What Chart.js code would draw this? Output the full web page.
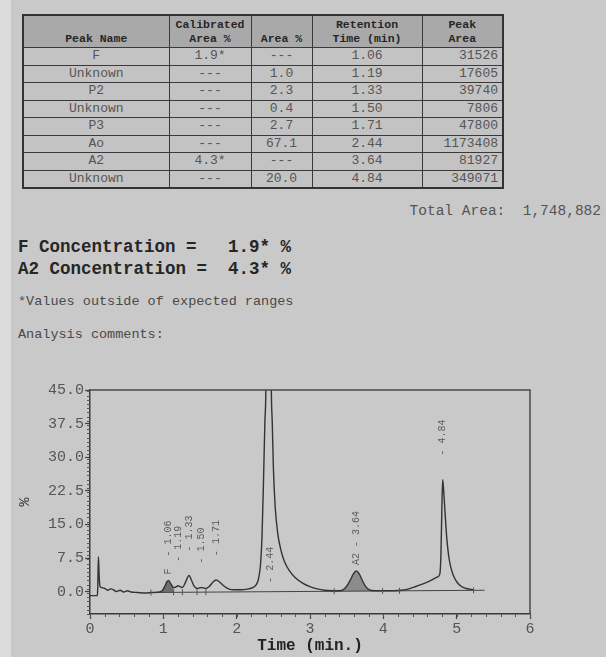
<!DOCTYPE html>
<html><head><meta charset="utf-8">
<script src="https://cdn.jsdelivr.net/npm/chart.js@4.4.1/dist/chart.umd.min.js"></script>
<style>
html,body{margin:0;padding:0;}
body{width:606px;height:657px;position:relative;overflow:hidden;background:#c9c9c9;font-family:"Liberation Mono",monospace;color:#4a4a4a;}
#strip{position:absolute;left:0;top:0;width:11px;height:657px;background:#dcdcdc;}
table{position:absolute;left:22px;top:14px;width:480px;border-collapse:collapse;table-layout:fixed;border:2px solid #333;}
th,td{border:1.5px solid #3a3a3a;padding:0 4px;white-space:nowrap;overflow:hidden;}
th{background:#a9a9a9;font-size:11.5px;font-weight:bold;color:#262626;vertical-align:bottom;height:30px;line-height:14px;padding-bottom:1px;text-align:center;}
td{background:#c3c3c3;font-size:13px;color:#555;height:16.5px;line-height:16px;text-align:center;}
td.r{text-align:right;}
.t{position:absolute;white-space:pre;}
#total{right:5px;top:203px;font-size:14.5px;color:#555;}
.conc{left:18px;font-size:17.5px;font-weight:bold;color:#262626;}
.small{left:18px;font-size:13.5px;color:#4a4a4a;}
#c{position:absolute;left:0;top:370px;}
</style></head>
<body>
<div id="strip"></div>
<table id="tbl">
<colgroup><col style="width:146px"><col style="width:82px"><col style="width:61px"><col style="width:110px"><col style="width:81px"></colgroup>
<thead><tr><th>Peak Name</th><th>Calibrated<br>Area %</th><th>Area %</th><th>Retention<br>Time (min)</th><th>Peak<br>Area</th></tr></thead>
<tbody id="tb"></tbody>
</table>
<div class="t" id="total"></div>
<div class="t conc" id="fc" style="top:237px"></div>
<div class="t conc" id="ac" style="top:259px"></div>
<div class="t small" style="top:294px">*Values outside of expected ranges</div>
<div class="t small" style="top:327px">Analysis comments:</div>
<canvas id="c" width="606" height="287"></canvas>
<script>
// ---- table data ----
const peakNames = ["F","Unknown","P2","Unknown","P3","Ao","A2","Unknown"];
const calibratedArea = ["1.9*","---","---","---","---","---","4.3*","---"];
const areaPct = ["---","1.0","2.3","0.4","2.7","67.1","---","20.0"];
const retentionTimes = ["1.06","1.19","1.33","1.50","1.71","2.44","3.64","4.84"];
const peakAreas = ["31526","17605","39740","7806","47800","1173408","81927","349071"];
const totalArea = "1,748,882";
const concLines = ["F Concentration =   1.9* %","A2 Concentration =  4.3* %"];

// ---- chromatogram data (time in min, signal in %) ----
const traceTime = [0.00,0.10,0.105,0.115,0.125,0.135,0.16,0.20,0.24,0.28,0.32,0.36,0.41,0.46,0.51,0.56,0.65,0.75,0.85,0.95,
  0.99,1.02,1.05,1.07,1.10,1.14,1.17,1.20,1.23,1.26,1.30,1.35,1.38,1.42,1.46,1.49,1.52,1.55,1.58,1.63,1.68,1.72,1.77,1.83,1.89,1.96,
  2.06,2.16,2.22,2.27,2.30,2.325,2.345,2.365,2.385,2.40,2.44,2.47,2.485,2.50,2.525,2.56,2.60,2.65,2.72,2.80,2.90,3.00,3.10,3.20,3.30,
  3.40,3.45,3.50,3.55,3.59,3.63,3.67,3.71,3.76,3.81,3.88,4.00,4.15,4.25,4.35,4.45,4.55,4.65,4.73,4.77,4.785,4.80,4.81,4.825,4.84,
  4.865,4.90,4.95,5.00,5.06,5.13,5.23];
const traceSignal = [-0.9,-0.9,0.5,7.8,3.5,1.2,0.9,0.7,0.3,0.6,0.4,0.0,0.3,-0.1,0.2,-0.1,-0.2,-0.3,-0.2,-0.1,
  0.3,1.2,2.2,2.5,1.8,0.9,1.0,1.3,1.1,0.9,2.0,3.6,2.7,1.2,0.7,0.8,0.9,0.8,0.7,1.2,2.2,2.6,2.1,1.2,0.6,0.4,
  0.4,0.6,0.9,1.6,3.0,6,12,24,38,48,200,50,38,28,19,13,9.5,6.8,4.6,3.1,1.9,1.1,0.6,0.3,0.2,
  0.2,0.4,1.2,2.6,3.9,4.6,4.0,2.6,1.1,0.4,0.2,0.2,0.2,0.3,0.6,1.2,1.8,2.5,3.2,3.9,8,20,25,22,18,
  12,7,3.8,2.2,1.2,0.7,0.4];
const baselineTime = [0.83,5.38];
const baselineSignal = [-0.2,0.3];
const shadedPeaks = [[0.95,1.14],[3.40,3.88]];      // F and A2 integrated regions (min)
const shadeLevel = [-0.18,0.1];
const peakApexTime = [1.07,1.20,1.35,1.52,1.72,2.46,3.63,4.81];
const peakLabelLevel = [2.5,1.3,3.6,0.9,2.6,-3.4,4.6,25];
const chartPeakNames = ["F","","","","","","A2",""];
const markTime = [0.83,1.14,1.26,1.46,1.58,3.33,3.99,4.22,5.23];
const xTicks = [0,1,2,3,4,5,6];
const yTicks = [0,7.5,15,22.5,30,37.5,45];
const xMinorStep = 0.2, yMinorStep = 0.9375;

// ---- build table ----
const tb = document.getElementById('tb');
peakNames.forEach((n,i)=>{
  const tr=document.createElement('tr');
  [[n,''],[calibratedArea[i],''],[areaPct[i],''],[retentionTimes[i],''],[peakAreas[i],'r']].forEach(([v,c])=>{
    const td=document.createElement('td'); td.textContent=v; if(c) td.className=c; tr.appendChild(td);
  });
  tb.appendChild(tr);
});
document.getElementById('total').textContent = "Total Area:  " + totalArea;
document.getElementById('fc').textContent = concLines[0];
document.getElementById('ac').textContent = concLines[1];

// ---- chart ----
const pts = (ts,vs)=>ts.map((t,i)=>({x:t,y:vs[i]}));
const trace = pts(traceTime,traceSignal);
const shadeSets = shadedPeaks.map(([a,b],k)=>({
  data: trace.filter(p=>p.x>=a&&p.x<=b),
  borderWidth:0, pointRadius:0, backgroundColor: k===0?'#6f6f6f':'#8c8c8c',
  fill:{value:shadeLevel[k]}, cubicInterpolationMode:'monotone', order:3
}));
const baseInterp = t => baselineSignal[0] + (baselineSignal[1]-baselineSignal[0])*(t-baselineTime[0])/(baselineTime[1]-baselineTime[0]);

const extras = {
  id:'extras',
  afterDatasetsDraw(chart){
    const {ctx, chartArea:a, scales:{x,y}} = chart;
    ctx.save();
    ctx.strokeStyle='#4a4a4a'; ctx.lineWidth=1.5;
    ctx.beginPath(); ctx.moveTo(a.left,a.top); ctx.lineTo(a.right,a.top); ctx.lineTo(a.right,a.bottom); ctx.stroke();
    ctx.strokeStyle='#555'; ctx.lineWidth=1;
    markTime.forEach(t=>{
      const px=x.getPixelForValue(t), py=y.getPixelForValue(baseInterp(t));
      ctx.beginPath(); ctx.moveTo(px,py-3); ctx.lineTo(px,py+3); ctx.stroke();
    });
    ctx.font='10px "Liberation Mono"'; ctx.fillStyle='#5c5c5c'; ctx.textBaseline='middle'; ctx.textAlign='left';
    peakApexTime.forEach((t,i)=>{
      const px=x.getPixelForValue(t);
      const py=y.getPixelForValue(peakLabelLevel[i]) - 6;
      const txt=(chartPeakNames[i]+'  ').slice(0,2)+' - '+retentionTimes[i];
      ctx.save(); ctx.translate(px,py); ctx.rotate(-Math.PI/2); ctx.fillText(txt,0,0); ctx.restore();
    });
    ctx.restore();
  },
  afterDraw(chart){
    const {ctx, chartArea:a, scales:{x,y}} = chart;
    ctx.save(); ctx.strokeStyle='#555'; ctx.lineWidth=1;
    for(let v=y.min; v<=y.max+1e-9; v+=yMinorStep){
      const py=Math.round(y.getPixelForValue(v))+0.5;
      ctx.beginPath(); ctx.moveTo(a.left-3,py); ctx.lineTo(a.left,py); ctx.stroke();
    }
    for(let v=x.min; v<=x.max+1e-9; v+=xMinorStep){
      const px=Math.round(x.getPixelForValue(v))+0.5;
      ctx.beginPath(); ctx.moveTo(px,a.bottom); ctx.lineTo(px,a.bottom+3); ctx.stroke();
    }
    ctx.restore();
  }
};

new Chart(document.getElementById('c'),{
  type:'line',
  data:{datasets:[
    {data:trace,borderColor:'#333',borderWidth:1.4,pointRadius:0,fill:false,cubicInterpolationMode:'monotone',order:0},
    {data:pts(baselineTime,baselineSignal),borderColor:'#444',borderWidth:1,pointRadius:0,fill:false,order:1},
    ...shadeSets
  ]},
  options:{
    responsive:false, animation:false, devicePixelRatio:1,
    layout:{padding:{left:0,right:76,top:20,bottom:0}},
    plugins:{legend:{display:false},tooltip:{enabled:false}},
    scales:{
      x:{type:'linear',min:0,max:6,
        afterBuildTicks:s=>{s.ticks=xTicks.map(v=>({value:v}));},
        afterFit:s=>{s.height=43;},
        grid:{drawOnChartArea:false,drawTicks:true,tickLength:5,tickColor:'#444',tickWidth:1.2},
        border:{display:true,color:'#3a3a3a',width:1.5},
        ticks:{padding:1,color:'#555',font:{family:'"Liberation Mono"',size:15},callback:v=>String(v)},
        title:{display:true,text:'Time (min.)',color:'#222',font:{family:'"Liberation Mono"',size:16,weight:'bold'},padding:{top:0,bottom:1}}
      },
      y:{type:'linear',min:-5,max:45,
        afterBuildTicks:s=>{s.ticks=yTicks.map(v=>({value:v}));},
        afterFit:s=>{s.width=90;},
        grid:{drawOnChartArea:false,drawTicks:true,tickLength:5,tickColor:'#444',tickWidth:1.2},
        border:{display:true,color:'#3a3a3a',width:1.5},
        ticks:{padding:1,color:'#555',font:{family:'"Liberation Mono"',size:15},callback:v=>Number(v).toFixed(1)},
        title:{display:true,text:'%',color:'#333',font:{family:'"Liberation Mono"',size:15},padding:{top:16,bottom:0}}
      }
    }
  },
  plugins:[extras]
});
</script>
</body></html>
